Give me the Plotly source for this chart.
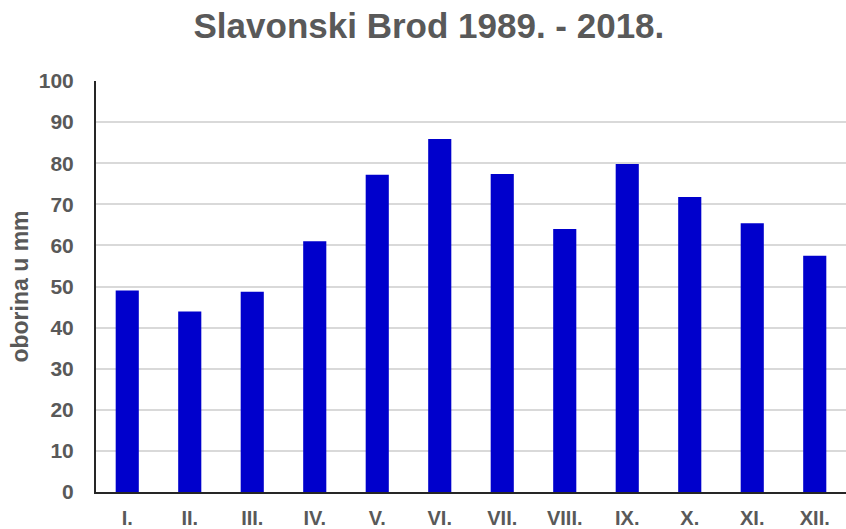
import plotly.graph_objects as go

months = ["I.", "II.", "III.", "IV.", "V.", "VI.", "VII.", "VIII.", "IX.", "X.", "XI.", "XII."]
precip = [49.0, 43.9, 48.7, 61.0, 77.2, 85.9, 77.4, 64.0, 79.8, 71.8, 65.4, 57.5]
y_ticks = [0, 10, 20, 30, 40, 50, 60, 70, 80, 90, 100]

FONT = "Liberation Sans, Arial, sans-serif"
GRAY = "#595959"

fig = go.Figure(go.Bar(x=months, y=precip, marker=dict(color="#0000CC", line=dict(width=0)),
                       width=0.37))

fig.update_layout(
    width=846, height=529,
    paper_bgcolor="white", plot_bgcolor="white",
    margin=dict(l=96, r=0, t=81, b=37, autoexpand=False),
    title=dict(text="<b>Slavonski Brod 1989. - 2018.</b>", x=0.507, xanchor="center",
               y=0.952, yanchor="middle",
               font=dict(family=FONT, size=35, color=GRAY)),
    showlegend=False,
    font=dict(family=FONT, color=GRAY),
)
fig.update_yaxes(
    range=[0, 100], tickvals=y_ticks,
    ticktext=[f"<b>{v}</b>" for v in y_ticks],
    tickfont=dict(family=FONT, size=21, color=GRAY),
    showgrid=True, gridcolor="#d9d9d9", gridwidth=2,
    showline=True, linecolor="#262626", linewidth=2,
    zeroline=False, ticks="", ticklabelstandoff=16, automargin=False,
    title=dict(text="<b>oborina u mm</b>", font=dict(family=FONT, size=23, color=GRAY), standoff=4),
)
fig.update_xaxes(
    tickvals=months, ticktext=[f"<b>{m}</b>" for m in months],
    tickfont=dict(family=FONT, size=20, color=GRAY),
    showline=True, linecolor="#262626", linewidth=2,
    ticks="", ticklabelstandoff=7, automargin=False,
)

fig.write_html("out.html", config={"displayModeBar": False},
               post_script="document.body.style.margin='0';")
